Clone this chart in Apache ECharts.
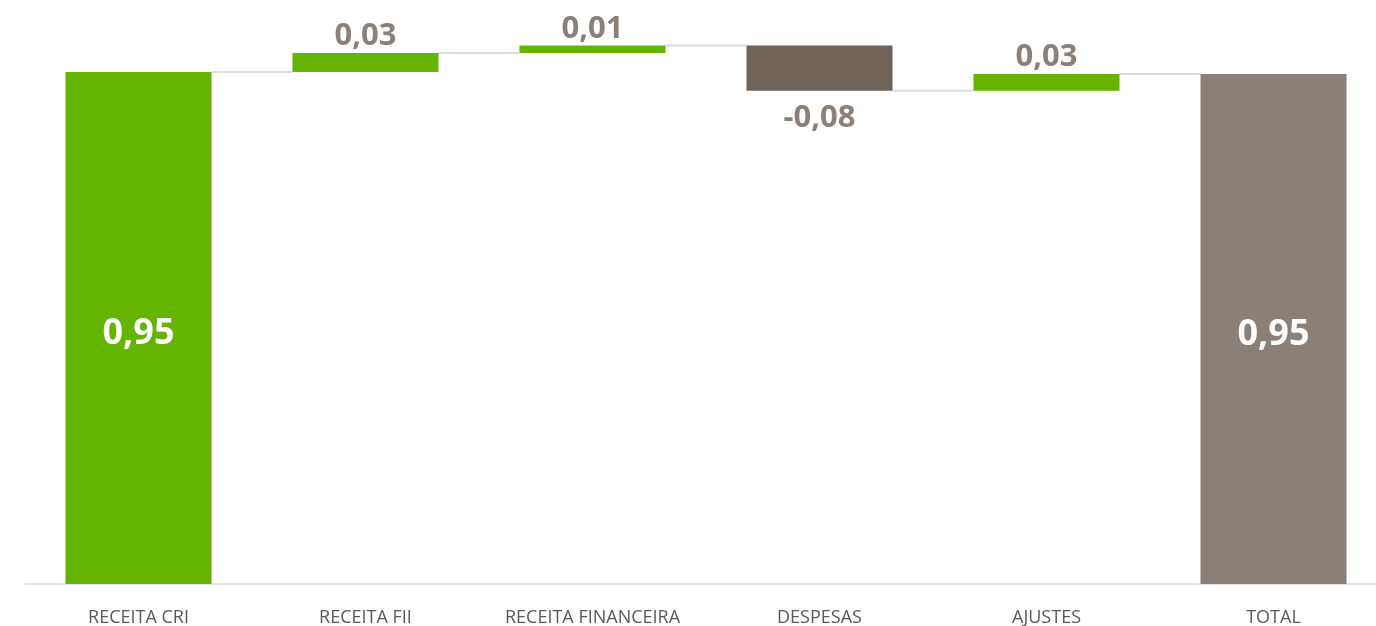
<!DOCTYPE html>
<html>
<head>
<meta charset="utf-8">
<script src="https://cdn.jsdelivr.net/npm/echarts@6/dist/echarts.min.js"></script>
<style>
  html, body { margin: 0; padding: 0; background: #fff; }
  #chart { width: 1376px; height: 626px; }
</style>
</head>
<body>
<div id="chart"></div>
<script>
// categorias e valores
const categories = ["RECEITA CRI", "RECEITA FII", "RECEITA FINANCEIRA", "DESPESAS", "AJUSTES", "TOTAL"];
const deltas = [0.95, 0.035, 0.014, -0.084, 0.031];
const labelTexts = ["0,95", "0,03", "0,01", "-0,08", "0,03", "0,95"];

const GREEN = "#65b400";
const DARK = "#6e6259";
const GREYBAR = "#8b8078";
const LABEL = "#8b8078";

const chartDom = document.getElementById("chart");
const myChart = echarts.init(chartDom);

// monta base invisível + barra visível (cascata)
let running = 0;
const baseData = [];
const barData = [];
const connectors = [];
deltas.forEach((d, i) => {
  const isFirst = i === 0;
  const start = running;
  running += d;
  let color = d >= 0 ? GREEN : DARK;
  let label = d >= 0
    ? { position: "top", fontSize: 31, color: LABEL, distance: 1 }
    : { position: "bottom", fontSize: 31, color: LABEL, distance: 12 };
  if (isFirst) label = { position: "inside", fontSize: 36, color: "#fff", offset: [0, 6] };
  baseData.push(Math.min(start, running));
  barData.push({
    value: Math.abs(d),
    itemStyle: { color: color },
    label: Object.assign({ show: true, formatter: labelTexts[i], fontWeight: "bold" }, label),
  });
  connectors.push([i, running]);
});
// total
baseData.push(0);
barData.push({
  value: running,
  itemStyle: { color: GREYBAR },
  label: { show: true, position: "inside", offset: [0, 6], formatter: labelTexts[5], fontWeight: "bold", fontSize: 36, color: "#fff" },
});

const BAR_W = 146;

const option = {
  animation: false,
  textStyle: { fontFamily: "Open Sans" },
  grid: { left: 25, top: 45, width: 1362, height: 539, outerBoundsMode: "none", containLabel: false },
  xAxis: {
    type: "category",
    data: categories,
    axisLine: { lineStyle: { color: "#e3e3e3", width: 2 } },
    axisTick: { show: false },
    axisLabel: { interval: 0, color: "#595959", fontSize: 18, margin: 25, fontFamily: "Open Sans" },
  },
  yAxis: {
    type: "value",
    min: 0,
    max: 1,
    show: false,
    splitLine: { show: false },
  },
  series: [
    {
      type: "custom",
      z: 1,
      data: connectors,
      renderItem: function (params, api) {
        const i = api.value(0);
        const v = api.value(1);
        const a = api.coord([i, v]);
        const b = api.coord([i + 1, v]);
        return {
          type: "line",
          shape: { x1: a[0] + BAR_W / 2, y1: a[1], x2: b[0] - BAR_W / 2, y2: b[1] },
          style: { stroke: "#dcdcdc", lineWidth: 2 },
        };
      },
    },
    {
      type: "bar",
      stack: "w",
      barWidth: BAR_W,
      itemStyle: { color: "transparent" },
      data: baseData,
      silent: true,
    },
    {
      type: "bar",
      stack: "w",
      barWidth: BAR_W,
      data: barData,
    },
  ],
};
option && myChart.setOption(option);
</script>
</body>
</html>
